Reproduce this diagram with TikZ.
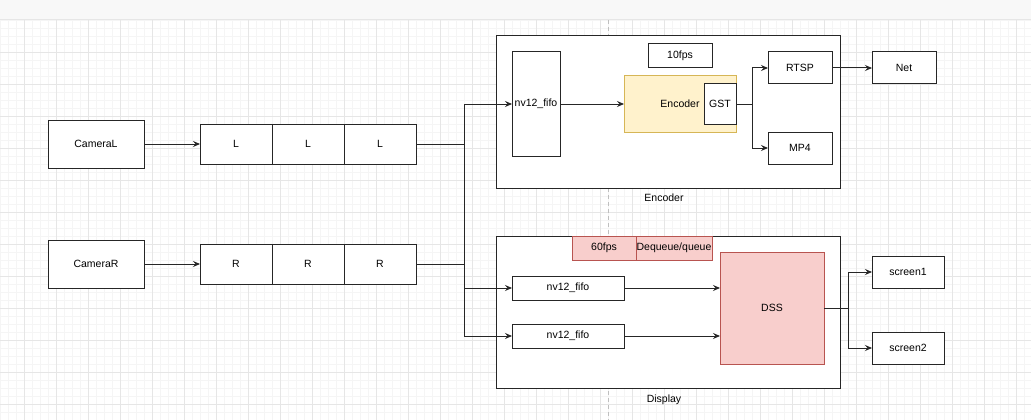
\documentclass[tikz,border=0pt]{standalone}
\usepackage{fontspec}
\setmainfont{Liberation Sans}
\usepackage{xcolor}
\usepackage{tikz}
\usetikzlibrary{arrows.meta,positioning,calc}

\definecolor{gridminor}{HTML}{F5F5F5}
\definecolor{gridmajor}{HTML}{E6E6E6}
\definecolor{topbar}{HTML}{F8F8F8}
\definecolor{encfill}{HTML}{FFF2CC}
\definecolor{encline}{HTML}{D6B656}
\definecolor{dssfill}{HTML}{F8CECC}
\definecolor{dssline}{HTML}{B85450}

\begin{document}
\begin{tikzpicture}[x=1pt, y=-1pt,
    every node/.style={font=\fontsize{10.5}{12}\selectfont, inner sep=0pt},
    box/.style={draw=black!85, fill=white, line width=1pt, outer sep=0pt, rectangle},
    hotbox/.style={box, draw=encline, fill=encfill},
    redbox/.style={box, draw=dssline, fill=dssfill},
    wire/.style={draw=black!85, line width=1pt},
    arr/.style={wire, -{Stealth[length=7pt, width=6pt, inset=2.5pt]}}]
  \useasboundingbox (0,0) rectangle (1031,420);
  % Canvas
  \fill[white] (0,0) rectangle (1031,420);
  \fill[topbar] (0,0) rectangle (1031,19);
  \draw[gridmajor, line width=1pt] (0,19.5) -- (1031,19.5);
  \foreach \x in {0.5,8.5,...,1030.5}
    \draw[gridminor, line width=0.8pt] (\x,20) -- (\x,420);
  \foreach \y in {20.3,28.3,...,420}
    \draw[gridminor, line width=0.8pt] (0,\y) -- (1031,\y);
  \foreach \x in {24.5,56.5,...,1030}
    \draw[gridmajor, line width=1pt] (\x,20) -- (\x,420);
  \foreach \y in {52.3,84.3,...,420}
    \draw[gridmajor, line width=1pt] (0,\y) -- (1031,\y);
  % Page break
  \draw[black!25, line width=1pt, dash pattern=on 4pt off 3pt] (608.3,20) -- (608.3,420);

  % Cameras and their queues
  \node[box, minimum width=96, minimum height=48] (camL) at (96,144) {CameraL};
  \node[box, minimum width=96, minimum height=48] (camR) at (96,264) {CameraR};
  \node[box, minimum width=72, minimum height=40] (lq1) at (236,144) {L};
  \node[box, minimum width=72, minimum height=40, right=0pt of lq1] (lq2) {L};
  \node[box, minimum width=72, minimum height=40, right=0pt of lq2] (lq3) {L};
  \node[box, minimum width=72, minimum height=40] (rq1) at (236,264) {R};
  \node[box, minimum width=72, minimum height=40, right=0pt of rq1] (rq2) {R};
  \node[box, minimum width=72, minimum height=40, right=0pt of rq2] (rq3) {R};
  \draw[arr] (camL) -- (lq1);
  \draw[arr] (camR) -- (rq1);

  % Encoder block
  \node[box, minimum width=344, minimum height=152] (enc) at (668,112) {};
  \node (encLabel) at (664,198) {Encoder};
  \node[box, minimum width=48, minimum height=104] (encfifo) at (536,104) {nv12\_fifo};
  \node[box, minimum width=64, minimum height=24] (fps10) at (680,56) {10fps};
  \node[hotbox, minimum width=112, minimum height=56] (encoder) at (680,104) {Encoder};
  \node[box, minimum width=32, minimum height=40] (gst) at (720,104) {GST};
  \node[box, minimum width=64, minimum height=32] (rtsp) at (800,68) {RTSP};
  \node[box, minimum width=64, minimum height=32] (mp4) at (800,148) {MP4};
  \node[box, minimum width=64, minimum height=32] (net) at (904,68) {Net};
  \coordinate (gstSplit) at (752,104);
  \draw[arr] (encfifo) -- (encoder);
  \draw[wire] (gst.east) -- (gstSplit);
  \draw[arr] (gstSplit) |- (rtsp.west);
  \draw[arr] (gstSplit) |- (mp4.west);
  \draw[arr] (rtsp) -- (net);

  % Display block
  \node[box, minimum width=344, minimum height=152] (disp) at (668,312) {};
  \node (dispLabel) at (664,400) {Display};
  \node[redbox, minimum width=64, minimum height=24] (fps60) at (604,248) {60fps};
  \node[redbox, minimum width=76, minimum height=24] (deq) at (674,248) {Dequeue/queue};
  \node[box, minimum width=112, minimum height=24] (dfifo1) at (568,288) {nv12\_fifo};
  \node[box, minimum width=112, minimum height=24] (dfifo2) at (568,336) {nv12\_fifo};
  \node[redbox, minimum width=104, minimum height=112] (dss) at (772,308) {DSS};
  \node[box, minimum width=72, minimum height=32] (screen1) at (908,272) {screen1};
  \node[box, minimum width=72, minimum height=32] (screen2) at (908,348) {screen2};
  \coordinate (dssSplit) at (848,308);
  \draw[arr] (dfifo1.east) -- (dfifo1.east -| dss.west);
  \draw[arr] (dfifo2.east) -- (dfifo2.east -| dss.west);
  \draw[wire] (dss.east) -- (dssSplit);
  \draw[arr] (dssSplit) |- (screen1.west);
  \draw[arr] (dssSplit) |- (screen2.west);

  % Fan-out from the queues
  \coordinate (jL) at (464,144);
  \coordinate (jR) at (464,264);
  \draw[wire] (lq3.east) -- (jL) -- (jR);
  \draw[wire] (rq3.east) -- (jR);
  \draw[arr] (jL) |- (encfifo.west);
  \draw[arr] (jR) |- (dfifo1.west);
  \draw[arr] (jR) |- (dfifo2.west);
\end{tikzpicture}
\end{document}
